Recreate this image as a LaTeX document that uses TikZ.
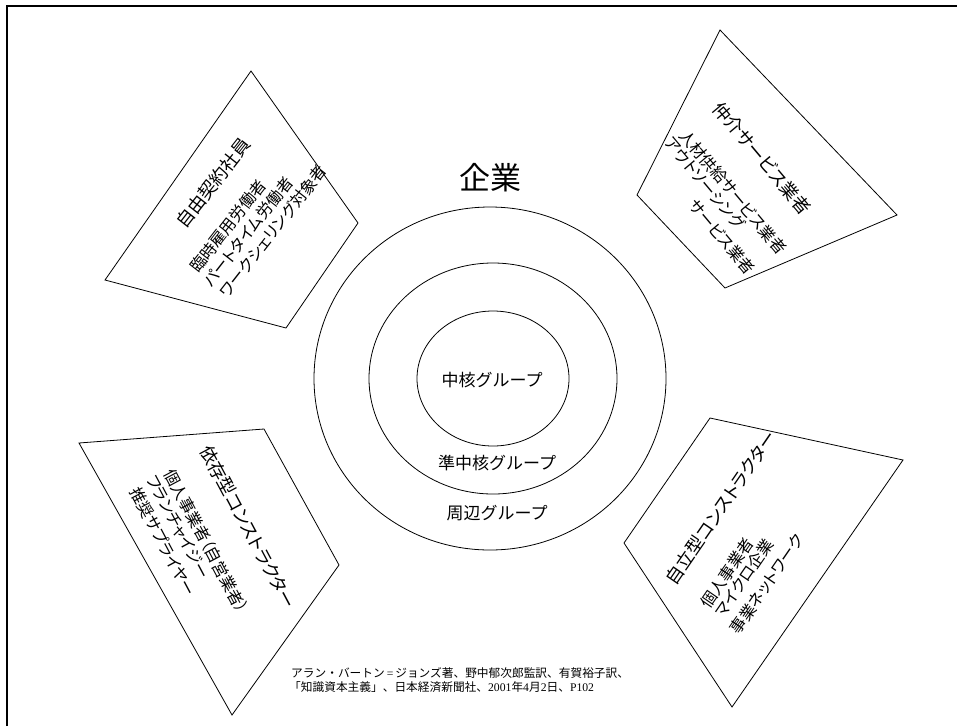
\documentclass[tikz,border=0pt]{standalone}
\usepackage{fontspec}
\setmainfont{Noto Sans CJK JP}[RawFeature=+palt]
\newfontfamily\jpm{Noto Sans CJK JP}
\newfontfamily\lat{Liberation Serif}
\begin{document}
\begin{tikzpicture}[x=1pt,y=-1pt,
  ring/.style={draw=black, line width=0.8pt},
  quad/.style={draw=black, line width=0.8pt, line join=miter},
  ttl/.style={font=\fontsize{18}{18}\selectfont, inner sep=0pt},
  sub/.style={font=\fontsize{16}{16}\selectfont, inner sep=0pt},
  ringlbl/.style={font=\jpm\fontsize{17}{17}\selectfont, inner sep=0pt},
  reftxt/.style={font=\jpm\fontsize{11.7}{11.7}\selectfont, inner sep=0pt, anchor=west}]
\useasboundingbox (0,0) rectangle (957,726);
% frame
\draw[line width=1.6pt] (7,726) -- (7,6) -- (957,6);
% rings
\draw[ring] (490,378.5) ellipse [x radius=176, y radius=171.5];
\draw[ring] (493,378.5) ellipse [x radius=124, y radius=115.5];
\draw[ring] (493,378.5) ellipse [x radius=76, y radius=67.5];
\node[font=\jpm\fontsize{31}{31}\selectfont, inner sep=0pt] (corp) at (490,178) {企業};
\node[ringlbl] (core) at (492,380) {中核グループ};
\node[ringlbl] (semi) at (497,463) {準中核グループ};
\node[ringlbl] (peri) at (497,513) {周辺グループ};
% quads
\draw[quad] (251,71) -- (358,223) -- (286,328) -- (105,280) -- cycle;
\draw[quad] (720,30) -- (897,215) -- (725,288) -- (637,195) -- cycle;
\draw[quad] (79,443) -- (264,429) -- (339,565) -- (232,715) -- cycle;
\draw[quad] (710,418) -- (903,460) -- (732,707) -- (624,543) -- cycle;
% top-left texts
\node[ttl, rotate=52] (tl0) at (213,183) {自由契約社員};
\node[sub, rotate=52] (tl1) at (228,226) {臨時雇用労働者};
\node[sub, rotate=52] (tl2) at (248,232) {パートタイム労働者};
\node[sub, rotate=52] (tl3) at (273,231) {ワークシェリング対象者};
% top-right texts
\node[ttl, rotate=-50] (tr0) at (762,158) {仲介サービス業者};
\node[sub, rotate=-50] (tr1) at (733,192) {人材供給サービス業者};
\node[sub, rotate=-50] (tr2) at (705,183) {アウトソーシング};
\node[sub, rotate=-50] (tr3) at (722,237) {サービス業者};
% bottom-left texts
\node[ttl, rotate=-62] (bl0) at (248,527) {依存型コンストラクター};
\node[sub, rotate=-62] (bl1) at (206,541) {個人事業者（自営業者）};
\node[sub, rotate=-62] (bl2) at (178,527) {フランチャイジー};
\node[sub, rotate=-62] (bl3) at (163,542) {推奨サプライヤー};
% bottom-right texts
\node[ttl, rotate=55.5] (br0) at (721,508) {自立型コンストラクター};
\node[sub, rotate=55.5] (br1) at (727,573) {個人事業者};
\node[sub, rotate=55.5] (br2) at (744,578) {マイクロ企業};
\node[sub, rotate=55.5] (br3) at (767,584) {事業ネットワーク};
% reference
\node[reftxt] (ref1) at (291,673) {アラン・バートン{\lat\,=\,}ジョンズ著、野中郁次郎監訳、有賀裕子訳、};
\node[reftxt] (ref2) at (289,687) {「知識資本主義」、日本経済新聞社、{\lat 2001}年{\lat 4}月{\lat 2}日、{\lat P102}};
\end{tikzpicture}
\end{document}
